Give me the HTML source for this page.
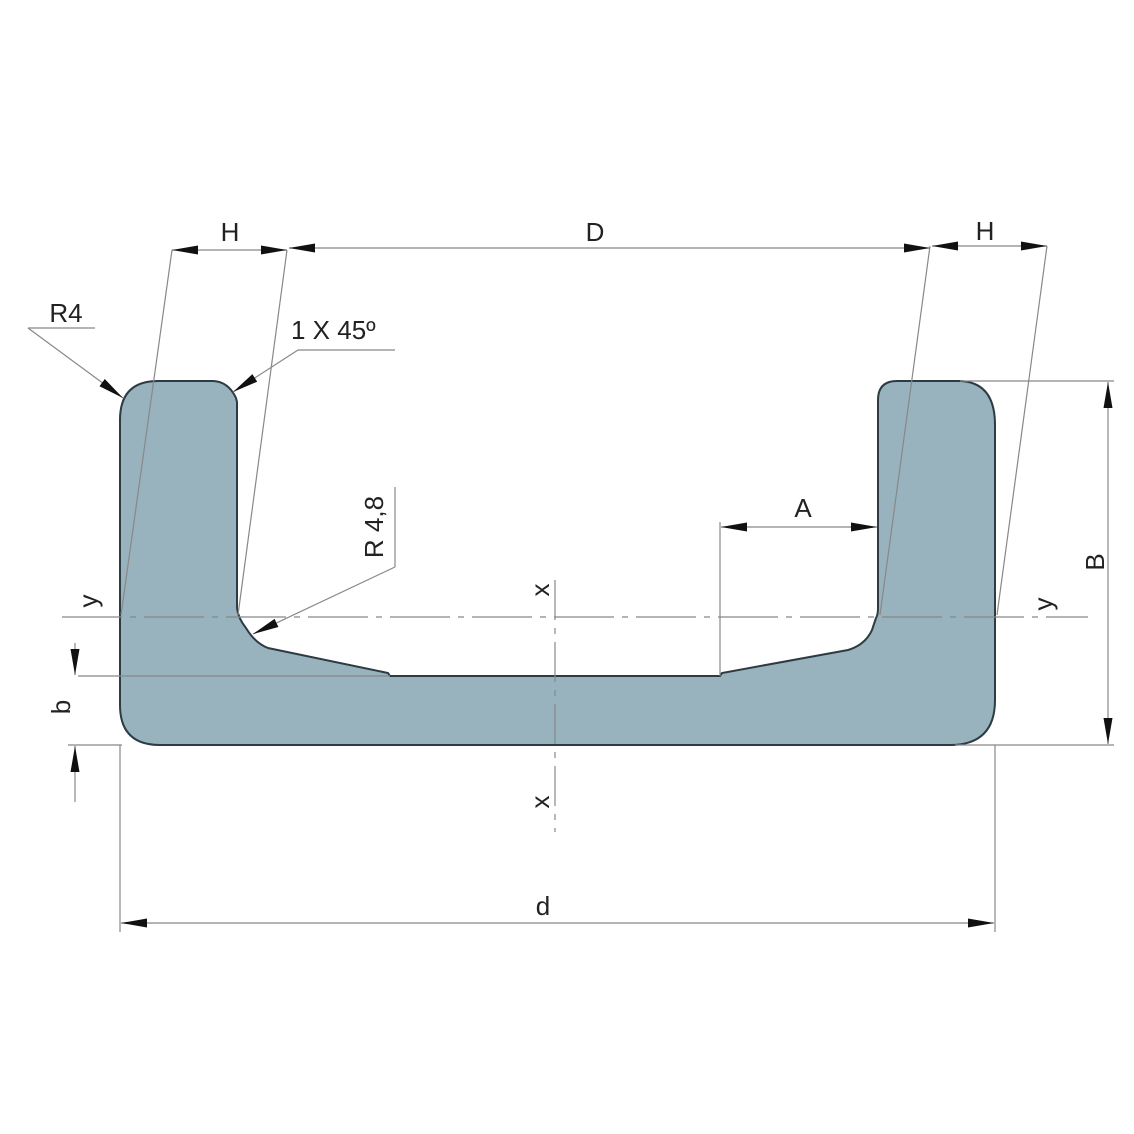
<!DOCTYPE html>
<html><head><meta charset="utf-8"><style>
html,body{margin:0;padding:0;background:#fff;}
svg{display:block;}
text{font-family:"Liberation Sans",Arial,sans-serif;fill:#222;}
</style></head><body>
<svg width="1134" height="1134" viewBox="0 0 1134 1134" xmlns="http://www.w3.org/2000/svg">
<defs>
<marker id="ar" viewBox="0 0 26 9" refX="26" refY="4.5" markerWidth="26" markerHeight="9" markerUnits="userSpaceOnUse" orient="auto">
<path d="M0,0 L26,4.5 L0,9 Z" fill="#111"/>
</marker>
</defs>
<path d="M120,420 Q120,381 158,381 L212,381 Q228,381 236,398 L237,402 L237,608 Q238,618 246,628 Q255,643 268,648 L388,673 L390,676 L720,676 L722,673 L848,650 Q865,645 872,630 L876,618 Q878,615 878,608 L878,400 Q878,381 897,381 L958,381 Q995,381 995,425 L995,700 Q995,745 950,745 L160,745 Q120,745 120,705 Z" fill="#98b2be" stroke="#2d3b42" stroke-width="2"/>
<g stroke="#888" stroke-width="1.2" fill="none">
<line x1="172" y1="250" x2="121" y2="615"/>
<line x1="287" y1="250" x2="238" y2="615"/>
<line x1="930" y1="246" x2="880" y2="615"/>
<line x1="1047" y1="246" x2="997" y2="615"/>
<line x1="62" y1="617" x2="1088" y2="617" stroke-dasharray="60,8,6,8"/>
<line x1="555" y1="580" x2="555" y2="832" stroke-dasharray="40,8,6,8"/>
<line x1="78" y1="676" x2="390" y2="676"/>
<line x1="68" y1="745" x2="122" y2="745"/>
<line x1="120" y1="745" x2="120" y2="932"/>
<line x1="995" y1="745" x2="995" y2="932"/>
<line x1="960" y1="381" x2="1114" y2="381"/>
<line x1="955" y1="745" x2="1114" y2="745"/>
<line x1="720" y1="522" x2="720" y2="676"/>
<line x1="28" y1="328" x2="95" y2="328"/>
<line x1="298" y1="350" x2="395" y2="350"/>
<line x1="395" y1="487" x2="395" y2="567"/>
</g>
<g stroke="#888" stroke-width="1.2" fill="none" marker-end="url(#ar)">
<line x1="230" y1="250" x2="172" y2="250"/>
<line x1="230" y1="250" x2="287" y2="250"/>
<line x1="600" y1="248" x2="289" y2="248"/>
<line x1="600" y1="248" x2="930" y2="248"/>
<line x1="985" y1="246" x2="932" y2="246"/>
<line x1="985" y1="246" x2="1047" y2="246"/>
<line x1="1108" y1="560" x2="1108" y2="382"/>
<line x1="1108" y1="560" x2="1108" y2="744"/>
<line x1="75" y1="643" x2="75" y2="675"/>
<line x1="75" y1="802" x2="75" y2="746"/>
<line x1="550" y1="923" x2="121" y2="923"/>
<line x1="550" y1="923" x2="994" y2="923"/>
<line x1="800" y1="527" x2="721" y2="527"/>
<line x1="800" y1="527" x2="877" y2="527"/>
<line x1="28" y1="328" x2="123" y2="398"/>
<line x1="298" y1="350" x2="233" y2="392"/>
<line x1="395" y1="567" x2="253" y2="634"/>
</g>
<g font-size="26">
<text x="230" y="241" text-anchor="middle">H</text>
<text x="595" y="241" text-anchor="middle">D</text>
<text x="985" y="240" text-anchor="middle">H</text>
<text x="66" y="322" text-anchor="middle">R4</text>
<text x="291" y="339">1 X 45º</text>
<text x="803" y="517" text-anchor="middle">A</text>
<text x="543" y="915" text-anchor="middle">d</text>
<text transform="translate(383,527) rotate(-90)" text-anchor="middle">R 4,8</text>
<text transform="translate(1104,562) rotate(-90)" text-anchor="middle">B</text>
<text transform="translate(70,707) rotate(-90)" text-anchor="middle">b</text>
<text transform="translate(97,601) rotate(-90)" text-anchor="middle">y</text>
<text transform="translate(1052,604) rotate(-90)" text-anchor="middle">y</text>
<text transform="translate(549,590) rotate(-90)" text-anchor="middle">x</text>
<text transform="translate(549,802) rotate(-90)" text-anchor="middle">x</text>
</g>
</svg>
</body></html>
